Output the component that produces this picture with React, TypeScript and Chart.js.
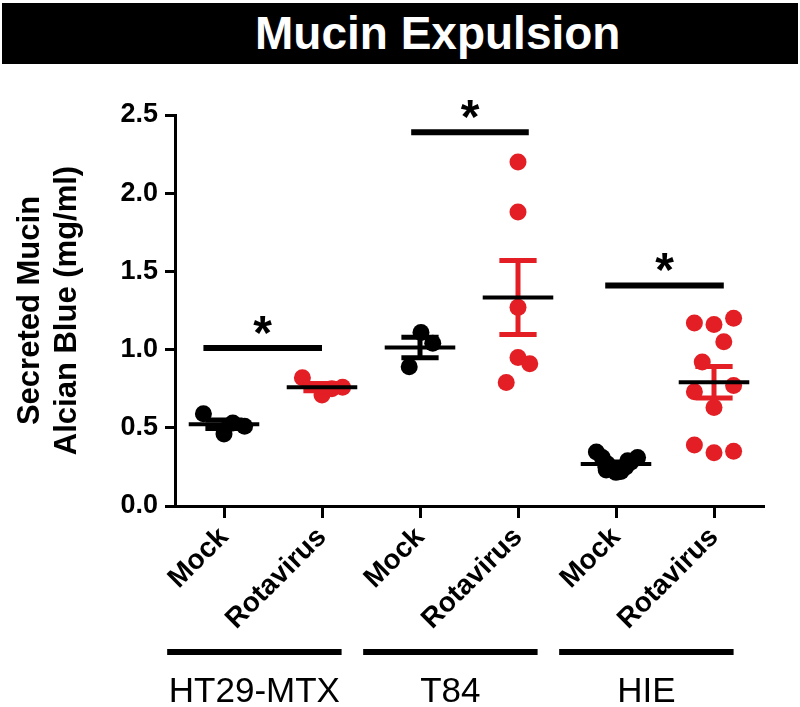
import React, { useEffect, useRef } from 'react';
import { Chart, registerables } from 'chart.js';

Chart.register(...registerables);

// ---- data ----
const categories = ['Mock', 'Rotavirus', 'Mock', 'Rotavirus', 'Mock', 'Rotavirus'];
const cellLines = ['HT29-MTX', 'T84', 'HIE'];
const yTicks = [0, 0.5, 1.0, 1.5, 2.0, 2.5];
const chartTitle = 'Mucin Expulsion';
const yTitle = ['Secreted Mucin', 'Alcian Blue (mg/ml)'];

const ht29Mock = [0.59, 0.46, 0.51, 0.53];
const ht29Rota = [0.82, 0.71, 0.76, 0.75];
const t84Mock = [1.11, 1.04, 0.89];
const t84Rota = [2.2, 1.88, 1.27, 0.95, 0.91, 0.79];
const hieMock = [0.345, 0.31, 0.27, 0.24, 0.215, 0.22, 0.25, 0.28, 0.31, 0.23, 0.29];
const hieRota = [1.17, 1.16, 1.2, 1.05, 0.92, 0.77, 0.73, 0.63, 0.39, 0.34, 0.35];

// horizontal scatter of dots within a column (category units)
const ht29MockJitter = [-0.21, 0, 0.21, 0.09];
const ht29RotaJitter = [-0.2, 0, 0.21, 0.1];
const t84MockJitter = [0.01, 0.13, -0.11];
const t84RotaJitter = [0, 0, 0, 0, 0.12, -0.12];
const hieMockJitter = [-0.2, -0.14, -0.09, -0.04, 0, 0.05, 0.1, 0.15, 0.22, -0.1, 0.12];
const hieRotaJitter = [-0.2, 0, 0.2, 0.1, -0.12, 0.2, -0.2, 0, -0.2, 0, 0.2];

// significance annotations
const sigY = [1.01, 2.39, 1.41];
const sigFrom = [-0.21, 1.91, 3.89];
const sigTo = [1.0, 3.11, 5.1];
const sigLabel = ['*', '*', '*'];

const BLACK = '#000000';
const RED = '#e31e24';
const FONT = '"Liberation Sans", Arial, Helvetica, sans-serif';

const groups = [
  { values: ht29Mock, jitter: ht29MockJitter, color: BLACK },
  { values: ht29Rota, jitter: ht29RotaJitter, color: RED },
  { values: t84Mock, jitter: t84MockJitter, color: BLACK },
  { values: t84Rota, jitter: t84RotaJitter, color: RED },
  { values: hieMock, jitter: hieMockJitter, color: BLACK },
  { values: hieRota, jitter: hieRotaJitter, color: RED },
];

function stats(vals: number[]) {
  const n = vals.length;
  const mean = vals.reduce((a, b) => a + b, 0) / n;
  const sd = Math.sqrt(vals.reduce((a, b) => a + (b - mean) * (b - mean), 0) / (n - 1));
  return { mean, sem: sd / Math.sqrt(n) };
}

function seg(ctx: CanvasRenderingContext2D, x1: number, y1: number, x2: number, y2: number) {
  ctx.beginPath();
  ctx.moveTo(x1, y1);
  ctx.lineTo(x2, y2);
  ctx.stroke();
}

const overlayPlugin = {
  id: 'overlay',
  afterDatasetsDraw(chart: any) {
    const ctx: CanvasRenderingContext2D = chart.ctx;
    const xs = chart.scales.x;
    const ys = chart.scales.y;
    ctx.save();
    ctx.lineCap = 'butt';
    groups.forEach((g, i) => {
      const { mean, sem } = stats(g.values);
      const cx = xs.getPixelForValue(i);
      const capHalf = xs.getPixelForValue(i + 0.19) - cx;
      const meanHalf = xs.getPixelForValue(i + 0.36) - cx;
      const yTop = ys.getPixelForValue(mean + sem);
      const yBot = ys.getPixelForValue(mean - sem);
      ctx.strokeStyle = g.color;
      ctx.lineWidth = 5;
      seg(ctx, cx, yTop, cx, yBot);
      seg(ctx, cx - capHalf, yTop, cx + capHalf, yTop);
      seg(ctx, cx - capHalf, yBot, cx + capHalf, yBot);
      ctx.strokeStyle = BLACK;
      ctx.lineWidth = 4;
      const ym = ys.getPixelForValue(mean);
      seg(ctx, cx - meanHalf, ym, cx + meanHalf, ym);
    });
    ctx.restore();
  },
  afterDraw(chart: any) {
    const ctx: CanvasRenderingContext2D = chart.ctx;
    const xs = chart.scales.x;
    const ys = chart.scales.y;
    const area = chart.chartArea;
    ctx.save();
    // significance bars and stars
    ctx.strokeStyle = BLACK;
    ctx.fillStyle = BLACK;
    ctx.lineWidth = 6;
    sigY.forEach((v, i) => {
      const x1 = xs.getPixelForValue(sigFrom[i]);
      const x2 = xs.getPixelForValue(sigTo[i]);
      const yy = ys.getPixelForValue(v);
      seg(ctx, x1, yy, x2, yy);
      ctx.font = `bold 48px ${FONT}`;
      ctx.textAlign = 'center';
      ctx.textBaseline = 'alphabetic';
      ctx.fillText(sigLabel[i], (x1 + x2) / 2, yy + 1);
    });
    // cell line group bars and labels
    cellLines.forEach((name, i) => {
      const x1 = xs.getPixelForValue(i * 2 - 0.58);
      const x2 = xs.getPixelForValue(i * 2 + 1.2);
      const yb = area.bottom + 146;
      ctx.lineWidth = 6;
      seg(ctx, x1, yb, x2, yb);
      ctx.font = `35px ${FONT}`;
      ctx.textAlign = 'center';
      ctx.textBaseline = 'alphabetic';
      ctx.fillText(name, (x1 + x2) / 2, area.bottom + 196);
    });
    ctx.restore();
  },
};

export default function App() {
  const canvasRef = useRef<HTMLCanvasElement | null>(null);

  useEffect(() => {
    if (!canvasRef.current) return;
    Chart.defaults.font.family = FONT;
    const datasets = groups.map((g, i) => ({
      label: categories[i],
      data: g.values.map((v, j) => ({ x: i + g.jitter[j], y: v })),
      backgroundColor: g.color,
      borderColor: g.color,
      borderWidth: 0,
      pointRadius: 8.5,
      pointHoverRadius: 8.5,
    }));
    const chart = new Chart(canvasRef.current, {
      type: 'scatter',
      data: { datasets },
      plugins: [overlayPlugin],
      options: {
        responsive: false,
        animation: false,
        events: [],
        layout: { padding: { top: 115, right: 37, bottom: 0, left: 0 } },
        plugins: {
          legend: { display: false },
          tooltip: { enabled: false },
          title: { display: false },
        },
        scales: {
          x: {
            type: 'linear',
            min: -0.5,
            max: 5.5,
            afterBuildTicks: (s: any) => {
              s.ticks = categories.map((_, i) => ({ value: i }));
            },
            afterFit: (s: any) => {
              s.height = 201;
            },
            ticks: {
              autoSkip: false,
              minRotation: 45,
              maxRotation: 45,
              color: BLACK,
              padding: 3,
              font: { size: 28, weight: 'bold' },
              callback: (v: any) => categories[Math.round(Number(v))],
            },
            grid: {
              display: true,
              drawOnChartArea: false,
              drawTicks: true,
              tickLength: 12,
              color: BLACK,
              lineWidth: 3,
            },
            border: { display: true, color: BLACK, width: 3 },
          },
          y: {
            type: 'linear',
            min: 0,
            max: 2.5,
            afterBuildTicks: (s: any) => {
              s.ticks = yTicks.map((v) => ({ value: v }));
            },
            afterFit: (s: any) => {
              s.width = 175;
            },
            ticks: {
              color: BLACK,
              padding: 7,
              font: { size: 27, weight: 'bold' },
              callback: (v: any) => Number(v).toFixed(1),
            },
            grid: {
              display: true,
              drawOnChartArea: false,
              drawTicks: true,
              tickLength: 10,
              color: BLACK,
              lineWidth: 3,
            },
            border: { display: true, color: BLACK, width: 3 },
            title: {
              display: true,
              text: yTitle,
              color: BLACK,
              font: { size: 31, weight: 'bold' },
              padding: { top: 12, bottom: 0 },
            },
          },
        },
      } as any,
    });
    return () => chart.destroy();
  }, []);

  return (
    <div style={{ position: 'fixed', left: 0, top: 0, width: 800, height: 707, background: '#fff' }}>
      <canvas ref={canvasRef} width={800} height={707} style={{ display: 'block' }} />
      <div
        style={{
          position: 'absolute',
          left: 2,
          top: 3,
          width: 796,
          height: 61,
          background: '#000',
          color: '#fff',
          fontFamily: FONT,
          fontWeight: 'bold',
          fontSize: 46,
          lineHeight: '61px',
          paddingLeft: 253,
          boxSizing: 'border-box',
          whiteSpace: 'nowrap',
        }}
      >
        {chartTitle}
      </div>
    </div>
  );
}
